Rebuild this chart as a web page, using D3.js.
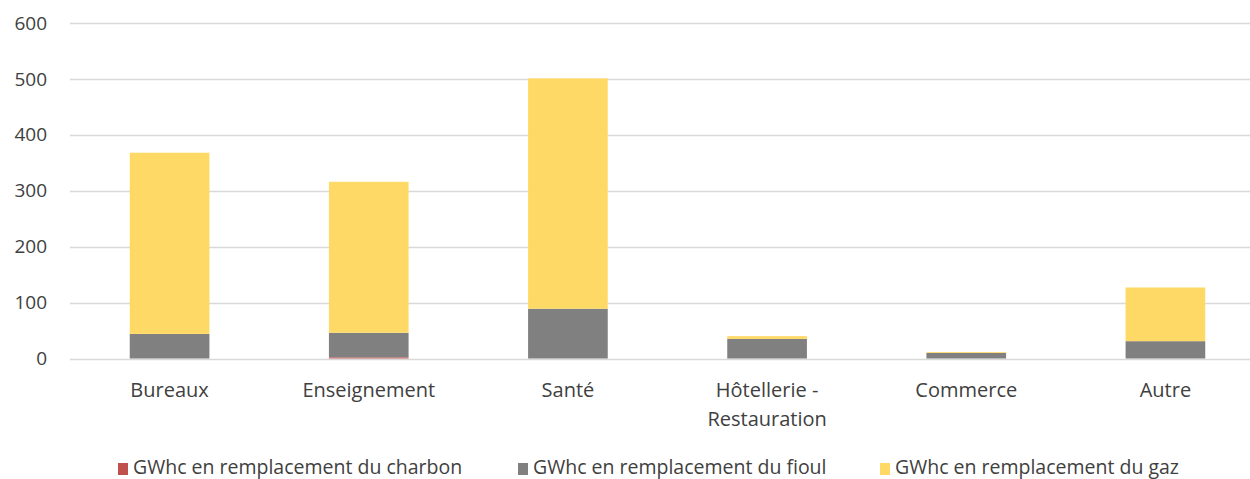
<!DOCTYPE html>
<html>
<head>
<meta charset="utf-8">
<script src="https://cdn.jsdelivr.net/npm/d3@7"></script>
<style>
  body { margin: 0; background: #fff; overflow: hidden; }
  text { font-family: "Open Sans", "Noto Sans", sans-serif; fill: #404040; }
</style>
</head>
<body>
<div id="canvas"></div>
<script>
// data
var categories = ['Bureaux', 'Enseignement', 'Santé', 'Hôtellerie - Restauration', 'Commerce', 'Autre'];
var charbon = [0, 2, 0, 0, 0, 0];
var fioul   = [44, 44, 89, 35, 10, 31];
var gaz     = [324, 270, 412, 5, 1.5, 96];
var seriesNames = ['GWhc en remplacement du charbon', 'GWhc en remplacement du fioul', 'GWhc en remplacement du gaz'];
var yTicks = [0, 100, 200, 300, 400, 500, 600];

var colors = ['#C0504D', '#808080', '#FFD966'];

var W = 1250, H = 479;
var svg = d3.select('#canvas').append('svg')
    .attr('width', W)
    .attr('height', H)
    .style('display', 'block');

var rows = categories.map(function(c, i) {
    return { cat: c, charbon: charbon[i], fioul: fioul[i], gaz: gaz[i] };
});
var stack = d3.stack().keys(['charbon', 'fioul', 'gaz'])(rows);

var y = d3.scaleLinear().domain([0, 600]).range([358.5, 23]);
var x = d3.scaleBand().domain(categories).range([70, 1265]).paddingInner(0.6).paddingOuter(0.3);

// gridlines
svg.append('g').selectAll('line')
    .data(yTicks)
    .enter().append('line')
    .attr('x1', 70).attr('x2', W)
    .attr('y1', function(d) { return Math.round(y(d)) + 0.5; })
    .attr('y2', function(d) { return Math.round(y(d)) + 0.5; })
    .style('stroke', '#D9D9D9')
    .style('stroke-width', 1.3);

// y axis labels
var axisY = d3.axisLeft(y).tickValues(yTicks).tickSize(0).tickPadding(0);
var gy = svg.append('g').attr('transform', 'translate(47,0)').call(axisY);
gy.select('.domain').remove();
gy.selectAll('text').style('font-size', '19px').style('fill', '#404040')
    .style('font-family', '"Open Sans", sans-serif');

// bars
svg.selectAll('g.layer')
    .data(stack)
    .enter().append('g')
    .attr('class', 'layer')
    .style('fill', function(d, i) { return colors[i]; })
    .selectAll('rect')
    .data(function(d) { return d; })
    .enter().append('rect')
    .attr('x', function(d) { return x(d.data.cat); })
    .attr('width', x.bandwidth())
    .attr('y', function(d) { return y(d[1]); })
    .attr('height', function(d) { return y(d[0]) - y(d[1]); });

// category labels
var labels = svg.append('g').selectAll('text')
    .data(categories)
    .enter().append('text')
    .attr('text-anchor', 'middle')
    .style('font-size', '20px')
    .attr('x', function(d) { return x(d) + x.bandwidth() / 2; })
    .attr('y', 397);
labels.each(function(d) {
    var t = d3.select(this);
    var parts = d === 'Hôtellerie - Restauration' ? ['Hôtellerie -', 'Restauration'] : [d];
    parts.forEach(function(p, k) {
        t.append('tspan').attr('x', x(d) + x.bandwidth() / 2).attr('dy', k === 0 ? 0 : 29).text(p);
    });
});

// legend
var legX = [118, 518, 880];
var leg = svg.append('g').selectAll('g')
    .data(seriesNames)
    .enter().append('g')
    .attr('transform', function(d, i) { return 'translate(' + legX[i] + ',463)'; });
leg.append('rect').attr('width', 10).attr('height', 12)
    .style('fill', function(d, i) { return colors[i]; });
leg.append('text').attr('x', 15).attr('y', 11)
    .style('font-size', '19.5px')
    .text(function(d) { return d; });
</script>
</body>
</html>
